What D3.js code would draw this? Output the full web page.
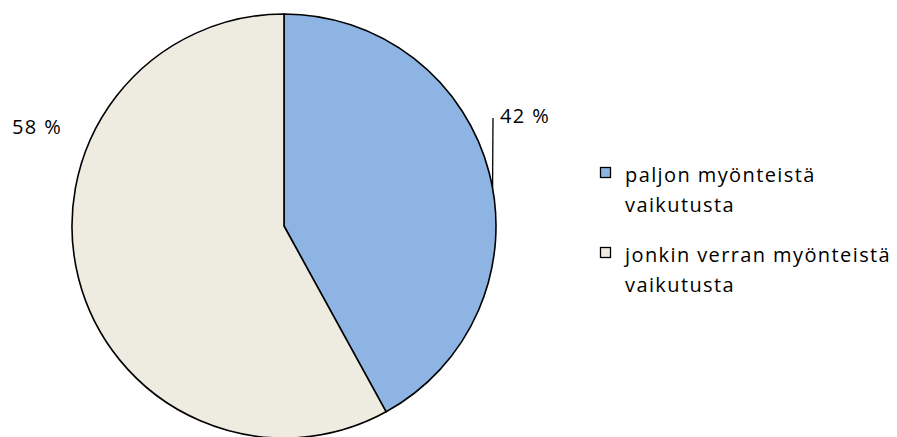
<!DOCTYPE html>
<html>
<head>
<meta charset="utf-8">
<script src="https://cdn.jsdelivr.net/npm/d3@7"></script>
<style>
body { margin: 0; background: #fff; }
text { font-family: "Open Sans", Lato, sans-serif; fill: #000; }
</style>
</head>
<body>
<div class="viz"></div>
<script>
var categories = ["paljon myönteistä vaikutusta", "jonkin verran myönteistä vaikutusta"],
    legendLines = [["paljon myönteistä", "vaikutusta"], ["jonkin verran myönteistä", "vaikutusta"]],
    values = [42, 58],
    labels = ["42 %", "58 %"],
    colors = ["#8EB4E3", "#EEECE1"];

var width = 897,
    height = 437,
    cx = 284,
    cy = 226,
    radius = 212;

var svg = d3.select('.viz').append('svg')
    .attr('width', width)
    .attr('height', height);

var pie = d3.pie().sort(null).value(function(d) { return d; });
var arcs = pie(values);

var arc = d3.arc().innerRadius(0).outerRadius(radius);

var g = svg.append('g')
    .attr('transform', 'translate(' + cx + ',' + cy + ')');

g.selectAll('path')
    .data(arcs)
    .enter().append('path')
    .attr('d', arc)
    .attr('fill', function(d, i) { return colors[i]; })
    .attr('stroke', '#000')
    .attr('stroke-width', 1.6)
    .attr('stroke-linejoin', 'round');

// data labels
var labelPos = [[216, -103], [-272, -92]];

// leader line for the blue slice
var a0 = arcs[0].startAngle + (arcs[0].endAngle - arcs[0].startAngle) * 0.527;
g.append('line')
    .attr('x1', 209)
    .attr('y1', -108)
    .attr('x2', Math.sin(a0) * radius)
    .attr('y2', -Math.cos(a0) * radius)
    .attr('stroke', '#000')
    .attr('stroke-width', 1.3);

g.selectAll('.lbl')
    .data(labels)
    .enter().append('text')
    .attr('class', 'lbl')
    .attr('x', function(d, i) { return labelPos[i][0]; })
    .attr('y', function(d, i) { return labelPos[i][1]; })
    .style('font-size', '20px')
    .style('letter-spacing', '1.4px')
    .text(function(d) { return d; });

// legend
var legend = svg.append('g')
    .attr('transform', 'translate(600,167)');

var item = legend.selectAll('g')
    .data(categories)
    .enter().append('g')
    .attr('transform', function(d, i) { return 'translate(0,' + (i * 80) + ')'; });

item.append('rect')
    .attr('x', 0.5)
    .attr('y', 0.5)
    .attr('width', 10)
    .attr('height', 10)
    .attr('fill', function(d, i) { return colors[i]; })
    .attr('stroke', '#000')
    .attr('stroke-width', 1.3);

item.append('text')
    .attr('x', 25)
    .attr('y', 15)
    .style('font-size', '20px')
    .style('letter-spacing', '1.4px')
    .selectAll('tspan')
    .data(function(d, i) { return legendLines[i]; })
    .enter().append('tspan')
    .attr('x', 25)
    .attr('dy', function(d, j) { return j === 0 ? 0 : 30; })
    .text(function(d) { return d; });
</script>
</body>
</html>
